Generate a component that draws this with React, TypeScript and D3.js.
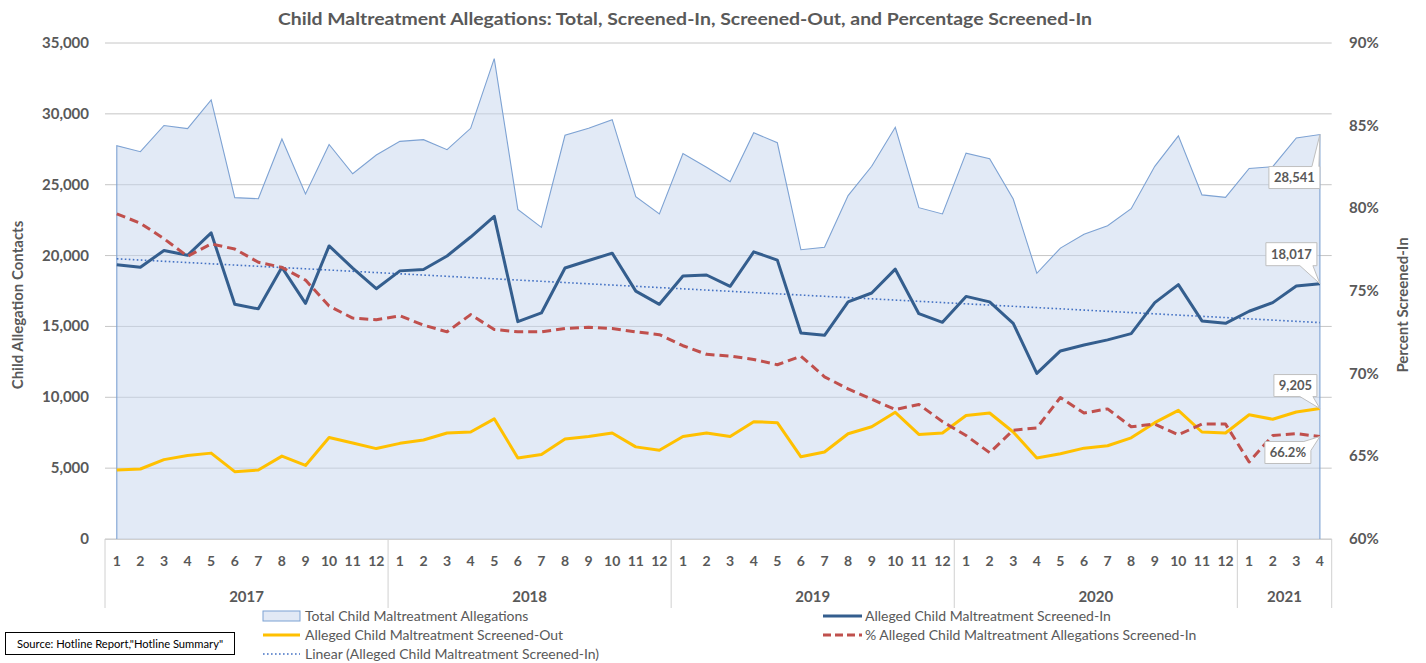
import * as d3 from 'd3'

// monthly values, Jan 2017 .. Apr 2021
const YEARS = ['2017', '2018', '2019', '2020', '2021']
const MONTHS_PER_YEAR = [12, 12, 12, 12, 4]

const total = [
  27760, 27330, 29180, 28960, 30980, 24090, 24010, 28230, 24350, 27840, 25770, 27100,
  28060, 28180, 27470, 28980, 33900, 23260, 21990, 28490, 28980, 29590, 24160, 22940,
  27200, 26230, 25210, 28670, 27960, 20410, 20580, 24230, 26300, 29050, 23380, 22940,
  27230, 26840, 23990, 18750, 20530, 21510, 22110, 23310, 26300, 28450, 24280, 24110,
  26150, 26270, 28300, 28541,
]

const screenedIn = [
  19360, 19170, 20360, 20020, 21600, 16560, 16240, 19170, 16630, 20680, 19120, 17660,
  18920, 19020, 19970, 21310, 22770, 15340, 15950, 19120, 19650, 20170, 17490, 16560,
  18560, 18630, 17830, 20260, 19680, 14540, 14370, 16730, 17360, 19040, 15900, 15290,
  17120, 16730, 15220, 11690, 13270, 13690, 14050, 14490, 16680, 17950, 15390, 15220,
  16070, 16680, 17850, 18017,
]

const screenedOut = [
  4870, 4940, 5600, 5890, 6060, 4750, 4870, 5850, 5190, 7160, 6770, 6380,
  6750, 6990, 7480, 7550, 8480, 5720, 5970, 7060, 7230, 7480, 6500, 6260,
  7230, 7480, 7230, 8280, 8210, 5800, 6140, 7430, 7920, 8940, 7380, 7480,
  8720, 8890, 7550, 5720, 6020, 6410, 6580, 7140, 8210, 9080, 7550, 7480,
  8770, 8450, 8960, 9205,
]

const pctIn = [
  79.67, 79.1, 78.16, 77.1, 77.85, 77.54, 76.74, 76.43, 75.66, 74.09, 73.36, 73.26,
  73.5, 72.94, 72.53, 73.57, 72.67, 72.53, 72.53, 72.73, 72.8, 72.73, 72.53, 72.36,
  71.69, 71.17, 71.06, 70.86, 70.54, 71.06, 69.81, 69.08, 68.46, 67.83, 68.14, 67.1,
  66.26, 65.22, 66.58, 66.72, 68.56, 67.62, 67.87, 66.79, 66.95, 66.3, 66.95, 66.95,
  64.66, 66.26, 66.37, 66.2,
]

const leftTicks = [0, 5000, 10000, 15000, 20000, 25000, 30000, 35000]
const rightTicks = [60, 65, 70, 75, 80, 85, 90]

const W = 1426
const H = 663
const TXT = '#595959'
const FONT = 'Lato, "Open Sans", sans-serif'

export default function App() {
  const months = MONTHS_PER_YEAR.flatMap(n => d3.range(1, n + 1))
  const idx = d3.range(months.length)

  const x = d3.scaleBand<number>().domain(idx).range([105, 1331.7]).padding(0)
  const cx = (i: number) => (x(i) as number) + x.bandwidth() / 2
  const yL = d3.scaleLinear().domain([0, 35000]).range([539, 43])
  const yR = d3.scaleLinear().domain([60, 90]).range([539, 43])

  const area = d3.area<number>().x((d, i) => cx(i)).y0(yL(0)).y1(d => yL(d))
  const lineL = d3.line<number>().x((d, i) => cx(i)).y(d => yL(d))
  const lineR = d3.line<number>().x((d, i) => cx(i)).y(d => yR(d))

  // linear trend of screened-in
  const mx = d3.mean(idx) as number
  const my = d3.mean(screenedIn) as number
  const slope =
    d3.sum(idx, i => (i - mx) * (screenedIn[i] - my)) / d3.sum(idx, i => (i - mx) ** 2)
  const trend = idx.map(i => my + slope * (i - mx))

  const last = idx.length - 1
  const areaOutline =
    `M${cx(0)},${yL(0)}L` + (lineL(total) as string).slice(1) + `L${cx(last)},${yL(0)}`

  // year boundaries
  let acc = 0
  const yearBlocks = YEARS.map((yr, k) => {
    const start = acc
    acc += MONTHS_PER_YEAR[k]
    return { yr, x0: x(start) as number, x1: (x(acc - 1) as number) + x.bandwidth() }
  })

  const px = cx(last)
  const callouts = [
    { label: d3.format(',')(total[last]), py: yL(total[last]), dx0: -51, dx1: 0, dy0: 32, dy1: 54, side: 'top', b0: -8, b1: -1 },
    { label: d3.format(',')(screenedIn[last]), py: yL(screenedIn[last]), dx0: -54, dx1: -3, dy0: -41, dy1: -18, side: 'bottom', b0: -20, b1: -7 },
    { label: d3.format(',')(screenedOut[last]), py: yL(screenedOut[last]), dx0: -46, dx1: -3, dy0: -34, dy1: -12, side: 'bottom', b0: -20, b1: -7 },
    { label: pctIn[last].toFixed(1) + '%', py: yR(pctIn[last]), dx0: -55, dx1: -9, dy0: 5, dy1: 27, side: 'corner', b0: -16, b1: 0 },
  ]
  const calloutPath = (c: typeof callouts[0]) => {
    const x0 = px + c.dx0, x1 = px + c.dx1, y0 = c.py + c.dy0, y1 = c.py + c.dy1
    if (c.side === 'top')
      return `M${x0},${y0}L${px + c.b0},${y0}L${px},${c.py}L${px + c.b1},${y0}L${x1},${y0}L${x1},${y1}L${x0},${y1}Z`
    if (c.side === 'bottom')
      return `M${x0},${y0}L${x1},${y0}L${x1},${y1}L${px + c.b1},${y1}L${px},${c.py}L${px + c.b0},${y1}L${x0},${y1}Z`
    return `M${x0},${y0}L${px + c.b0},${y0}L${px},${c.py}L${x1},${y0 + 9}L${x1},${y1}L${x0},${y1}Z`
  }

  const legend = [
    { x: 263, y: 616, kind: 'area', text: 'Total Child Maltreatment Allegations' },
    { x: 263, y: 635, kind: 'out', text: 'Alleged Child Maltreatment Screened-Out' },
    { x: 263, y: 654, kind: 'trend', text: 'Linear (Alleged Child Maltreatment Screened-In)' },
    { x: 823, y: 616, kind: 'in', text: 'Alleged Child Maltreatment Screened-In' },
    { x: 823, y: 635, kind: 'pct', text: '% Alleged Child Maltreatment Allegations Screened-In' },
  ]

  return (
    <svg width={W} height={H} style={{ position: 'absolute', left: 0, top: 0, background: '#fff' }} fontFamily={FONT}>
      <text x={685} y={25} textAnchor="middle" fontSize={17} fontWeight="bold" fill={TXT} textLength={814} lengthAdjust="spacingAndGlyphs">
        Child Maltreatment Allegations: Total, Screened-In, Screened-Out, and Percentage Screened-In
      </text>

      {/* gridlines */}
      {leftTicks.map(t => (
        <line key={t} x1={105} x2={1331.7} y1={yL(t)} y2={yL(t)} stroke="#c6c6c6" strokeWidth={1} />
      ))}

      <path d={area(total) as string} fill="#c6d5ee" fillOpacity={0.5} />
      <path d={areaOutline} fill="none" stroke="#7da2d3" strokeWidth={1.1} />

      <path d={lineL(trend) as string} fill="none" stroke="#4472c4" strokeWidth={1.6} strokeDasharray="1.6,2.4" />
      <path d={lineL(screenedOut) as string} fill="none" stroke="#ffc000" strokeWidth={3} strokeLinejoin="round" />
      <path d={lineL(screenedIn) as string} fill="none" stroke="#345e8e" strokeWidth={3} strokeLinejoin="round" />
      <path d={lineR(pctIn) as string} fill="none" stroke="#c0504d" strokeWidth={3} strokeDasharray="9,5" strokeLinejoin="round" />

      {/* left axis */}
      {leftTicks.map(t => (
        <text key={t} x={89} y={yL(t) + 5} textAnchor="end" fontSize={15} fontWeight="bold" fill={TXT}>
          {d3.format(',')(t)}
        </text>
      ))}
      <text transform="translate(23,305) rotate(-90)" textAnchor="middle" fontSize={15} fontWeight="bold" fill={TXT}>
        Child Allegation Contacts
      </text>

      {/* right axis */}
      {rightTicks.map(t => (
        <text key={t} x={1349} y={yR(t) + 5} fontSize={15} fontWeight="bold" fill={TXT}>
          {t}%
        </text>
      ))}
      <text transform="translate(1408,305) rotate(-90)" textAnchor="middle" fontSize={15} fontWeight="bold" fill={TXT}>
        Percent Screened-In
      </text>

      {/* category axis */}
      <line x1={105} x2={1331.7} y1={539.5} y2={539.5} stroke="#d0d0d0" />
      {yearBlocks.map(b => (
        <line key={'s' + b.yr} x1={b.x0} x2={b.x0} y1={539} y2={608} stroke="#d0d0d0" />
      ))}
      <line x1={1331.7} x2={1331.7} y1={539} y2={608} stroke="#d0d0d0" />
      {idx.map(i => (
        <text key={i} x={cx(i)} y={566} textAnchor="middle" fontSize={14} fontWeight="bold" fill={TXT}>
          {months[i]}
        </text>
      ))}
      {yearBlocks.map(b => (
        <text key={b.yr} x={(b.x0 + b.x1) / 2} y={602} textAnchor="middle" fontSize={15} fontWeight="bold" fill={TXT}>
          {b.yr}
        </text>
      ))}

      {/* data callouts */}
      {callouts.map(c => (
        <g key={c.label}>
          <path d={calloutPath(c)} fill="#fff" stroke="#bfbfbf" strokeWidth={1} />
          <text x={px + (c.dx0 + c.dx1) / 2} y={c.py + (c.dy0 + c.dy1) / 2 + 4.5} textAnchor="middle" fontSize={13} fontWeight="bold" fill={TXT}>
            {c.label}
          </text>
        </g>
      ))}

      {/* legend */}
      {legend.map(l => (
        <g key={l.kind}>
          {l.kind === 'area' && <rect x={l.x} y={l.y - 5} width={37} height={10} fill="#e2e9f5" stroke="#7da2d3" />}
          {l.kind === 'out' && <line x1={l.x} x2={l.x + 37} y1={l.y} y2={l.y} stroke="#ffc000" strokeWidth={3} />}
          {l.kind === 'in' && <line x1={l.x} x2={l.x + 39} y1={l.y} y2={l.y} stroke="#345e8e" strokeWidth={3} />}
          {l.kind === 'trend' && <line x1={l.x} x2={l.x + 37} y1={l.y} y2={l.y} stroke="#4472c4" strokeWidth={1.5} strokeDasharray="1.6,2.4" />}
          {l.kind === 'pct' && <line x1={l.x} x2={l.x + 39} y1={l.y} y2={l.y} stroke="#c0504d" strokeWidth={3} strokeDasharray="8,4" />}
          <text x={l.x + 42} y={l.y + 5} fontSize={14} fill={TXT}>
            {l.text}
          </text>
        </g>
      ))}

      {/* source note */}
      <rect x={5.5} y={632.5} width={229} height={22} fill="#fff" stroke="#000" />
      <text x={120} y={647.5} textAnchor="middle" fontSize={11.2} fill="#000">
        Source: Hotline Report,"Hotline Summary"
      </text>
    </svg>
  )
}
